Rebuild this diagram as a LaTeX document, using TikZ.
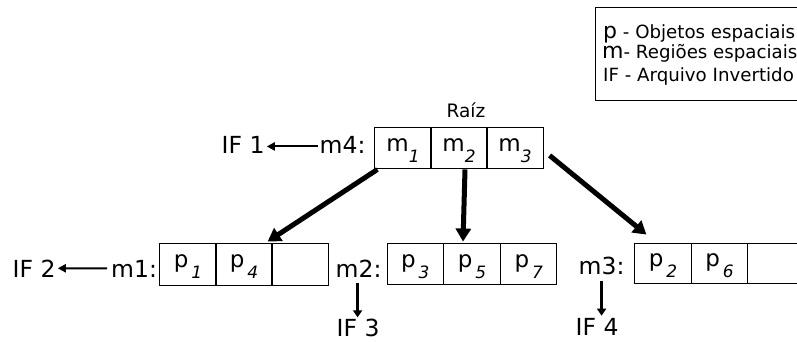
\documentclass[tikz,border=0pt]{standalone}
\usepackage{fontspec}
\setmainfont{DejaVu Sans}
\usetikzlibrary{arrows.meta,calc}

\newcommand{\cellm}[2]{{\fontsize{23}{23}\selectfont #1}\raisebox{-11pt}[0pt][5pt]{\fontsize{17}{17}\selectfont\itshape #2}}
\newcommand{\cellp}[2]{{\fontsize{23}{23}\selectfont #1}\kern3pt\raisebox{-11pt}[0pt][5pt]{\fontsize{17}{17}\selectfont\itshape #2}}

\tikzset{
  cell/.style={draw=black, line width=0.9pt, minimum width=56.3pt, minimum height=41pt, inner sep=0pt, anchor=center},
  lbl/.style={font=\fontsize{23.5}{24}\selectfont, inner sep=2pt, anchor=base west},
  leg/.style={inner sep=0pt, anchor=base west},
  thickarrow/.style={line width=5pt, -{Triangle[length=13pt,width=15pt]}},
  downarrow/.style={line width=3.5pt, -{Triangle[length=7pt,width=9pt]}},
  sidearrow/.style={line width=2pt, -{Triangle[length=8pt,width=8pt]}},
}

\begin{document}
\begin{tikzpicture}[x=1pt,y=-1pt]
\useasboundingbox (0,0) rectangle (797,341);

% legend
\draw[line width=0.9pt] (595,7) rectangle (815,100);
\node[leg] (lp) at (603,38) {{\fontsize{22}{22}\selectfont p}{\fontsize{18.2}{20}\selectfont\ - Objetos espaciais}};
\node[leg] (lm) at (602,58) {{\fontsize{22}{22}\selectfont m}{\fontsize{18.2}{20}\selectfont - Regiões espaciais}};
\node[leg] (lif) at (603,81) {\fontsize{18.2}{20}\selectfont IF - Arquivo Invertido};

% root
\node[font=\fontsize{18.5}{20}\selectfont, anchor=base, inner sep=0pt] (raiz) at (466,117) {Raíz};
\node[cell] (t1) at (403,147.5) {\cellm{m}{1}};
\node[cell] (t2) at (459,147.5) {\cellm{m}{2}};
\node[cell] (t3) at (515,147.5) {\cellm{m}{3}};
\node[lbl] (m4) at (317.5,153) {m4:};
\node[lbl] (if1) at (219.5,153) {IF 1};

% m1
\node[cell, minimum height=42pt] (b1) at (188,264) {\cellp{p}{1}};
\node[cell, minimum height=42pt] (b2) at (244,264) {\cellp{p}{4}};
\node[cell, minimum height=42pt] (b3) at (300,264) {};
\node[lbl] (m1) at (109,277) {m1:};
\node[lbl] (if2) at (10.5,277) {IF 2};

% m2
\node[cell] (c1) at (415.3,263.5) {\cellp{p}{3}};
\node[cell] (c2) at (472,263.5) {\cellp{p}{5}};
\node[cell] (c3) at (528.7,263.5) {\cellp{p}{7}};
\node[lbl] (m2) at (333.5,277) {m2:};
\node[lbl] (if3) at (334.5,336) {IF 3};

% m3
\node[cell, minimum height=40pt] (r1) at (663,263) {\cellp{p}{2}};
\node[cell, minimum height=40pt] (r2) at (719.5,263) {\cellp{p}{6}};
\node[cell, minimum height=40pt] (r3) at (776,263) {};
\node[lbl] (m3) at (576.5,274) {m3:};
\node[lbl] (if4) at (573.5,335) {IF 4};

% arrows
\draw[sidearrow] ($(m4.west)+(0,2)$) -- ($(if1.east)+(0,2)$);
\draw[sidearrow] ($(m1.west)+(-2,0)$) -- ($(if2.east)+(0,0)$);
\draw[downarrow] ($(m2.south)+(-1,4)$) -- ($(m2.south |- if3.north)+(-1,1)$);
\draw[downarrow] ($(m3.south)+(0,4)$) -- ($(m3.south |- if4.north)+(0,0)$);

\draw[thickarrow] ($(t1.south west)+(3,1)$) -- ($(b2.north east)+(-5,-1)$);
\draw[thickarrow] ($(t2.south)+(6,1)$) -- ($(c2.north)+(-9,-1)$);
\draw[thickarrow] ($(t3.south east)+(6,-13)$) -- ($(r1.north west)+(12,-8)$);
\end{tikzpicture}
\end{document}
